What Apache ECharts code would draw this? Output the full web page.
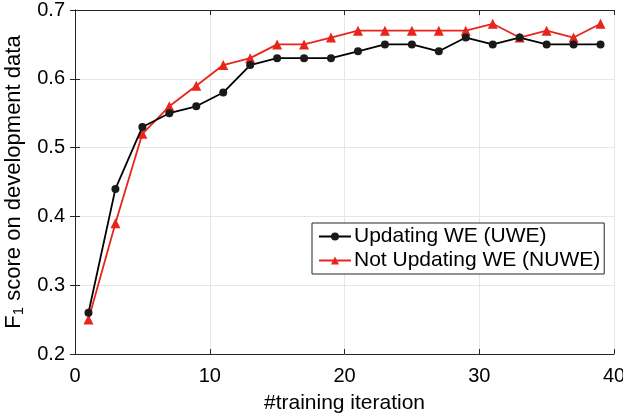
<!DOCTYPE html>
<html><head><meta charset="utf-8">
<script src="https://cdn.jsdelivr.net/npm/echarts@6/dist/echarts.min.js"></script>
<style>html,body{margin:0;padding:0;background:#fff}#c{width:623px;height:415px}</style>
</head><body><div id="c"></div>
<script>
const iterations = [1,3,5,7,9,11,13,15,17,19,21,23,25,27,29,31,33,35,37,39];
const uwe  = [0.26,0.44,0.53,0.55,0.56,0.58,0.62,0.63,0.63,0.63,0.64,0.65,0.65,0.64,0.66,0.65,0.66,0.65,0.65,0.65];
const nuwe = [0.25,0.39,0.52,0.56,0.59,0.62,0.63,0.65,0.65,0.66,0.67,0.67,0.67,0.67,0.67,0.68,0.66,0.67,0.66,0.68];
const seriesNames = ['Updating WE (UWE)','Not Updating WE (NUWE)'];
const xTicks = [0,10,20,30,40];
const yTicks = [0.2,0.3,0.4,0.5,0.6,0.7];

const font = 'Liberation Sans, Arial, sans-serif';
const chart = echarts.init(document.getElementById('c'), null, {renderer:'canvas'});
const axisLine = {show:true, lineStyle:{color:'#262626', width:1}};
const tick = {show:true, inside:true, length:5, lineStyle:{color:'#262626'}};
chart.setOption({
  animation:false,
  grid:{left:75, right:9, top:10, bottom:61, containLabel:false, outerBoundsMode:'none'},
  legend:{
    data: seriesNames,
    orient:'vertical', left:312, top:223,
    backgroundColor:'#fff', borderColor:'#262626', borderWidth:1,
    padding:[3,4,3,6], itemGap:3, itemWidth:32, itemHeight:10,
    textStyle:{fontFamily:font, fontSize:21, color:'#000', padding:[0,0,0,-2]}
  },
  xAxis:[{
    type:'value', min:0, max:40, interval:10, position:'bottom',
    name:'#training iteration', nameLocation:'middle', nameGap:39,
    nameTextStyle:{fontFamily:font, fontSize:21, color:'#000'},
    axisLine, axisTick:tick,
    axisLabel:{fontFamily:font, fontSize:20, color:'#000', margin:12,
      formatter:v=>xTicks.includes(v)?String(v):''},
    splitLine:{show:true, lineStyle:{color:'#e6e6e6', width:1}}
  },{
    type:'value', min:0, max:40, interval:10, position:'top',
    axisLine, axisTick:tick, axisLabel:{show:false}, splitLine:{show:false}
  }],
  yAxis:[{
    type:'value', min:0.2, max:0.7, interval:0.1, position:'left',
    name:'{a|F}{s|1}{a| score on development data}', nameLocation:'middle', nameGap:44,
    nameTextStyle:{fontFamily:font, fontSize:22, color:'#000',
      rich:{a:{fontFamily:font,fontSize:22,color:'#000'}, s:{fontFamily:font,fontSize:15,color:'#000',verticalAlign:'bottom',padding:[10,0,0,0]}}},
    axisLine, axisTick:tick,
    axisLabel:{fontFamily:font, fontSize:20, color:'#000', margin:10,
      formatter:v=>{const t=yTicks.find(y=>Math.abs(y-v)<1e-6);return t!==undefined?t.toFixed(1):'';}},
    splitLine:{show:true, lineStyle:{color:'#e6e6e6', width:1}}
  },{
    type:'value', min:0.2, max:0.7, interval:0.1, position:'right',
    axisLine, axisTick:tick, axisLabel:{show:false}, splitLine:{show:false}
  }],
  series:[{
    name:seriesNames[0], type:'line', data:iterations.map((x,i)=>[x,uwe[i]]),
    symbol:'circle', symbolSize:8, z:3,
    lineStyle:{color:'#000', width:1.8}, itemStyle:{color:'#1a1a1a'}
  },{
    name:seriesNames[1], type:'line', data:iterations.map((x,i)=>[x,nuwe[i]]),
    symbol:'triangle', symbolSize:10, z:2,
    lineStyle:{color:'#e8251b', width:1.8}, itemStyle:{color:'#e8251b'}
  }]
});
</script></body></html>
